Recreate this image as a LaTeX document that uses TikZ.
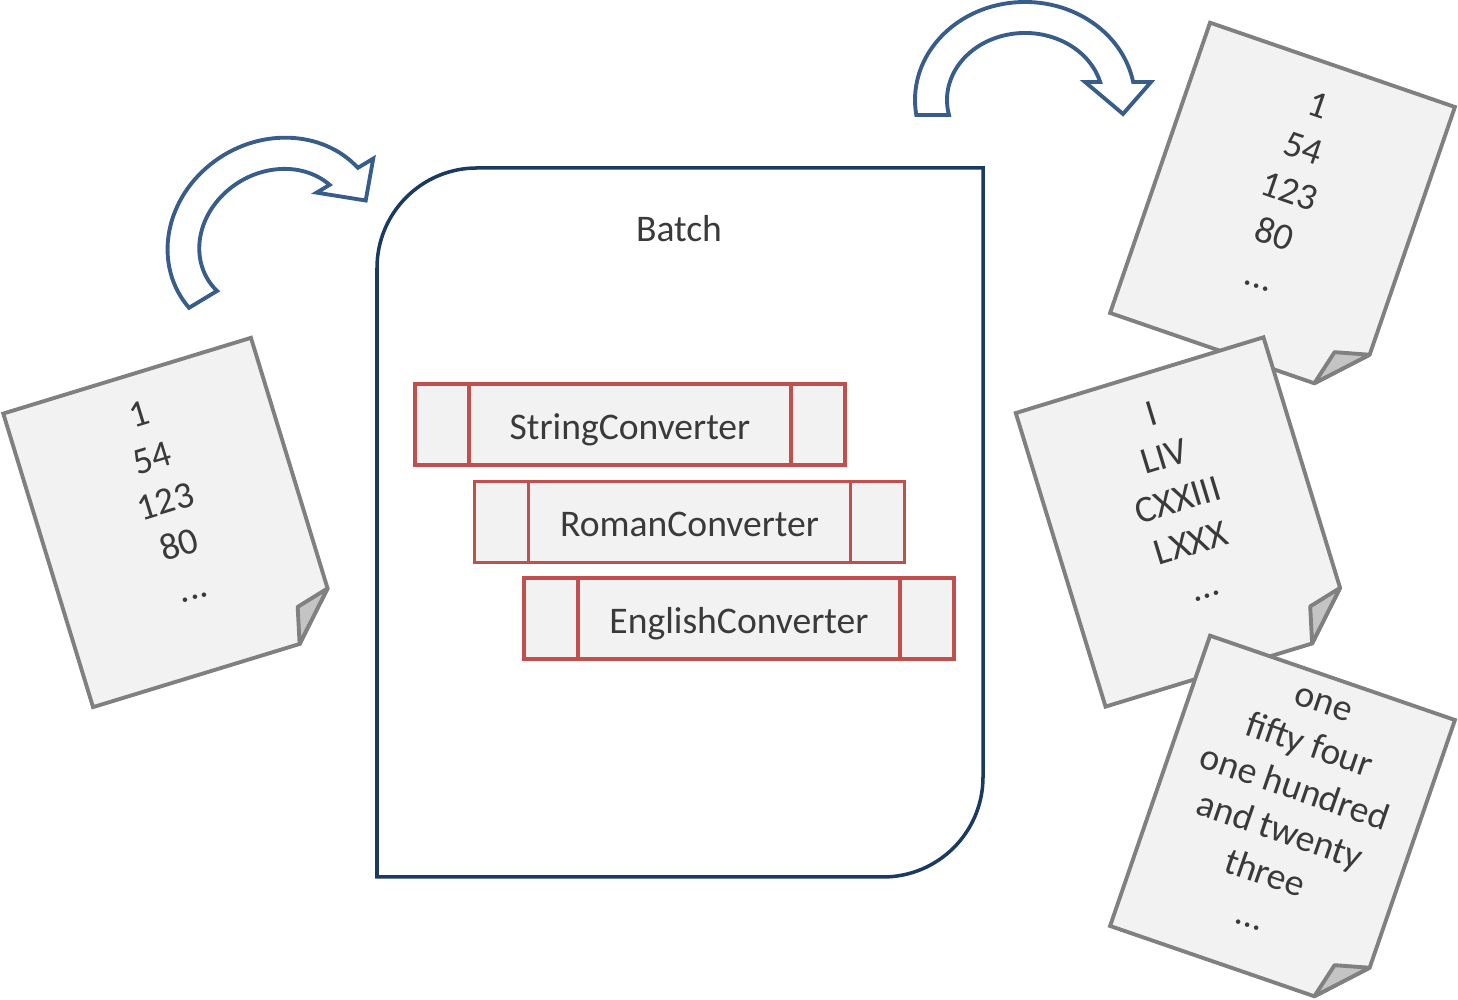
\documentclass[tikz,border=0pt]{standalone}
\usepackage{fontspec}
\setmainfont{Carlito}
\definecolor{pagegray}{HTML}{808080}
\definecolor{pagefill}{HTML}{F2F2F2}
\definecolor{foldgray}{HTML}{C4C4C4}
\definecolor{txtgray}{HTML}{3A3A3A}
\definecolor{convred}{HTML}{C0504D}
\definecolor{batchblue}{HTML}{1B3A60}
\definecolor{arrowblue}{HTML}{385D8A}
\tikzset{
  txt/.style={text=txtgray, font=\fontsize{10.7}{12.9}\selectfont},
  page/.style={draw=pagegray, fill=pagefill, line width=1.1pt},
  fold/.style={draw=pagegray, fill=foldgray, line width=1.1pt, line join=round},
  pagetext/.style={txt, align=center, inner sep=0pt},
  batchbox/.style={draw=batchblue, line width=1pt},
  converter/.style={txt, draw=convred, fill=pagefill, line width=1pt,
    minimum width=4.3cm, minimum height=0.81cm, inner sep=0pt,
    text height=0.85em, text depth=0pt,
    path picture={\draw[convred, line width=1pt]
      ([xshift=5.4mm]path picture bounding box.south west) -- ([xshift=5.4mm]path picture bounding box.north west)
      ([xshift=-5.4mm]path picture bounding box.south east) -- ([xshift=-5.4mm]path picture bounding box.north east);}},
  bendarrow/.pic={\draw[draw=arrowblue, fill=white, line width=1.1pt]
    (188.8:1.10 and 0.98) arc[start angle=188.8, end angle=10.6, x radius=1.10, y radius=0.98]
    -- (1.26,0.18) -- (0.98,-0.14) -- (0.60,0.18) -- (15.6:0.78 and 0.67)
    arc[start angle=15.6, end angle=192.9, x radius=0.78, y radius=0.67] -- cycle;}
}
\begin{document}
\begin{tikzpicture}
\useasboundingbox (0,0) rectangle (14.58,10);
\begin{scope}[shift={(1.72,4.775)}, rotate=17, transform shape]
\draw[page] (-1.295,1.535) -- (1.295,1.535) -- (1.295,-1.085) -- (0.865,-1.535) -- (-1.295,-1.535) -- cycle;
\draw[fold] (1.295,-1.085) -- (0.955,-1.175) -- (0.865,-1.535) -- cycle;
\node[pagetext] (numbers) at (0,0.22) {1\\54\\123\\80\\...};
\end{scope}
\draw[batchbox] (3.77,1.23) -- (3.77,7.32) arc (180:90:1) -- (9.83,8.32) -- (9.83,2.23) arc (0:-90:1) -- cycle;
\node[txt] (batch) at (6.79,7.71) {Batch};
\node[converter] (string) at (6.30,5.755) {StringConverter};
\node[converter] (roman) at (6.895,4.78) {RomanConverter};
\node[converter] (english) at (7.39,3.815) {EnglishConverter};
\pic[rotate=31] at (2.745,7.61) {bendarrow};
\pic at (10.25,9.00) {bendarrow};
\begin{scope}[shift={(12.825,7.90)}, rotate=-19, transform shape]
\draw[page] (-1.295,1.535) -- (1.295,1.535) -- (1.295,-1.085) -- (0.865,-1.535) -- (-1.295,-1.535) -- cycle;
\draw[fold] (1.295,-1.085) -- (0.955,-1.175) -- (0.865,-1.535) -- cycle;
\node[pagetext] (strings) at (0,0.2) {1\\54\\123\\80\\...};
\end{scope}
\begin{scope}[shift={(11.845,4.78)}, rotate=17, transform shape]
\draw[page] (-1.295,1.535) -- (1.295,1.535) -- (1.295,-1.085) -- (0.865,-1.535) -- (-1.295,-1.535) -- cycle;
\draw[fold] (1.295,-1.085) -- (0.955,-1.175) -- (0.865,-1.535) -- cycle;
\node[pagetext] (romans) at (0,0.23) {I\\LIV\\CXXIII\\LXXX\\...};
\end{scope}
\begin{scope}[shift={(12.825,1.77)}, rotate=-19, transform shape]
\draw[page] (-1.295,1.535) -- (1.295,1.535) -- (1.295,-1.085) -- (0.865,-1.535) -- (-1.295,-1.535) -- cycle;
\draw[fold] (1.295,-1.085) -- (0.955,-1.175) -- (0.865,-1.535) -- cycle;
\node[pagetext] (words) at (0,0.12) {one\\fifty four\\one hundred\\and twenty\\three\\...};
\end{scope}
\end{tikzpicture}
\end{document}
